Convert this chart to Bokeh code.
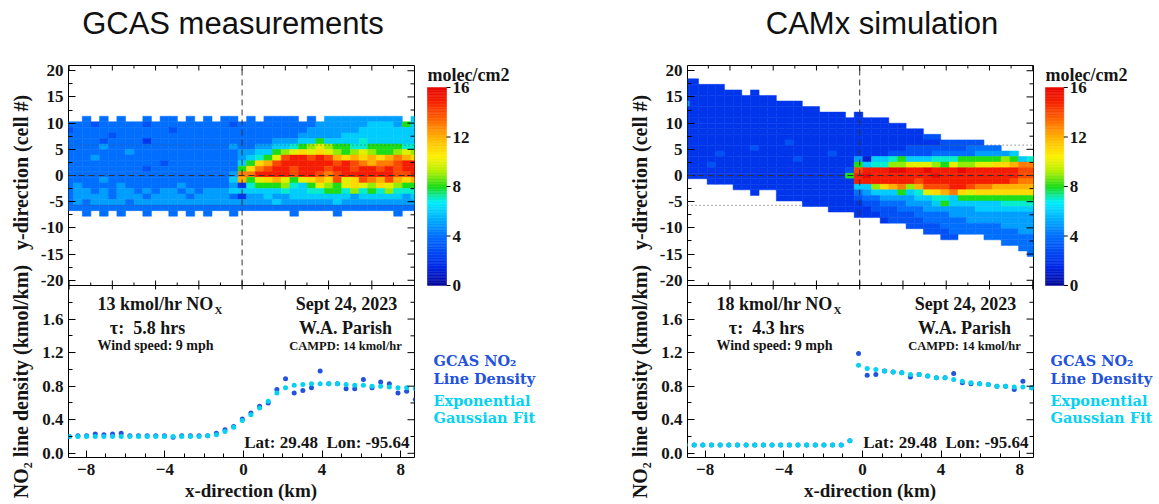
import numpy as np
from bokeh.plotting import figure
from bokeh.models import (Range1d, LinearAxis, FixedTicker, Label, Span,
                          ColumnDataSource, LinearColorMapper)
from bokeh.layouts import row
from bokeh.transform import transform
from bokeh.core.properties import value
from bokeh.embed import file_html
from bokeh.resources import INLINE

# ------------------------------------------------------------------ data
titles = ["GCAS measurements", "CAMx simulation"]

heat_ticks = [-20, -15, -10, -5, 0, 5, 10, 15, 20]
heat_minor = [-17.5, -12.5, -7.5, -2.5, 2.5, 7.5, 12.5, 17.5]
line_ticks = [0.0, 0.4, 0.8, 1.2, 1.6]
line_minor = [0.2, 0.6, 1.0, 1.4, 1.8]
x_ticks = [-8, -4, 0, 4, 8]
x_minor = [-9, -7, -6, -5, -3, -2, -1, 1, 2, 3, 5, 6, 7]
cbar_ticks = [0, 4, 8, 12, 16]

# NO2 column grids (molec/cm2 scaled 0..16, hex-17 digits, '.' = no data)
# each row: (columns 0-19, columns 20-40); first row = top row
left_grid = [
    ("..4.4.4..4.44.4.4.44", ".4.4444.4.555555555.6"),
    ("44434444434444444443", "444444444555555666586"),
    ("34444444444434444444", "444444445555556666666"),
    ("44444344444444444444", "444444455555666666666"),
    ("44443444424444444444", "444455566866667666666"),
    ("44445444444444444445", "445566789a98877888877"),
    ("44444445444444444444", "556689ababa989a9889a9"),
    ("44454444444444444444", "5678aeffefecbcbcbcdcb"),
    ("44444444444344444444", "68bceffffffefedcddeff"),
    ("44444444434444444444", "8bdeffefffeffeffefeff"),
    ("44444444444444444445", "ddffffeffedeffffffeef"),
    ("44445444444444444446", "c8abca8abcbeabedcecbc"),
    ("45444454444445444445", "278889768a98aba9ba988"),
    ("45545455454554545556", "666667667788797879777"),
    ("45555455545555455554", "255655666666656666656"),
    ("45455554555555555555", "555565555556555555555"),
    ("44444444444444444444", "444444444444444444444"),
    ("..4.4.4..4..4.4.4..4", "......4....4......4.."),
]

right_grid = [
    ("22", ""),
    ("22222", ""),
    ("2222222.2", ""),
    ("22222222222", ""),
    ("52222222222222", ""),
    ("2222222222222222", ""),
    ("2222222222222222222.", "2"),
    ("22222222222222222222", "2222"),
    ("22222222222222222222", "222222"),
    ("22222222222222222222", "22222222"),
    ("22222222222222222222", "2222222233"),
    ("22222222222232222222", "222222222233333"),
    ("22222222322222222222", "22222233333334444"),
    ("22223222222222222322", "2222333334444455556"),
    ("22222222222223222222", "516678666777888889867"),
    ("22232222222222222222", "867799aaa98a99aabbcdd"),
    ("22222222222222222223", "efffggffgfffgffffffee"),
    ("22222222222222222228", "fgfffffffgfffffffffee"),
    ("..." + "2" * 17, "fffffffeffffffffffedd"),
    ("." * 6 + "2" * 14, "669bcd9ceeeffeddccccc"),
    ("." * 8 + "2.." + "2" * 9, "45666867abcdbabbbbbbb"),
    ("." * 11 + "2" * 9, "344555566776888888888"),
    ("." * 14 + "2" * 6, "233444555686666667777"),
    ("." * 17 + "2" * 3, "223334445555556666666"),
    ("", "222333344445555555555"),
    ("", "..." + "233334444455555555"),
    ("", "." * 6 + "333344444445555"),
    ("", "." * 8 + "3334444444455"),
    ("", "." * 10 + "33..." + "444444"),
    ("", "." * 17 + "4444"),
    ("", "." * 19 + "44"),
    ("", "." * 20 + "4"),
]

# NO2 line density (kmol/km)
left_x = [-8.86, -8.42, -7.98, -7.54, -7.10, -6.66, -6.22, -5.78, -5.34, -4.90,
          -4.46, -4.02, -3.58, -3.14, -2.70, -2.26, -1.82, -1.38, -0.94, -0.50,
          -0.06, 0.38, 0.82, 1.26, 1.70, 2.14, 2.58, 3.02, 3.46, 3.90,
          4.34, 4.78, 5.22, 5.66, 6.10, 6.54, 6.98, 7.42, 7.86, 8.30, 8.74]
left_obs = [0.20, 0.21, 0.21, 0.23, 0.22, 0.23, 0.24, 0.21, 0.21, 0.21,
            0.21, 0.21, 0.19, 0.21, 0.21, 0.21, 0.21, 0.24, 0.28, 0.32,
            0.41, 0.48, 0.56, 0.60, 0.76, 0.89, 0.72, 0.75, 0.78, 0.98,
            0.83, 0.83, 0.77, 0.77, 0.88, 0.78, 0.85, 0.83, 0.72, 0.74, 0.64]
left_fit = [0.20, 0.20, 0.20, 0.20, 0.20, 0.20, 0.20, 0.20, 0.20, 0.20,
            0.20, 0.20, 0.20, 0.20, 0.20, 0.20, 0.21, 0.22, 0.26, 0.31,
            0.39, 0.46, 0.54, 0.62, 0.72, 0.78, 0.81, 0.82, 0.83, 0.83,
            0.83, 0.83, 0.82, 0.81, 0.81, 0.80, 0.80, 0.79, 0.78, 0.78, 0.77]
right_x = [-9.00, -8.56, -8.12, -7.68, -7.24, -6.80, -6.36, -5.92, -5.48, -5.04,
           -4.60, -4.16, -3.72, -3.28, -2.84, -2.40, -1.96, -1.52, -1.08, -0.64,
           -0.20, 0.24, 0.68, 1.12, 1.56, 2.00, 2.44, 2.88, 3.32, 3.76,
           4.20, 4.64, 5.08, 5.52, 5.96, 6.40, 6.84, 7.28, 7.72, 8.16, 8.60]
right_obs = [0.10, 0.10, 0.10, 0.10, 0.10, 0.10, 0.10, 0.10, 0.10, 0.10,
             0.10, 0.10, 0.10, 0.10, 0.10, 0.10, 0.10, 0.10, 0.10, 0.15,
             1.19, 0.93, 0.94, 0.98, 0.97, 0.96, 0.91, 0.94, 0.92, 0.90,
             0.90, 0.95, 0.84, 0.83, 0.83, 0.82, 0.80, 0.80, 0.76, 0.86, 0.78]
right_fit = [0.10, 0.10, 0.10, 0.10, 0.10, 0.10, 0.10, 0.10, 0.10, 0.10,
             0.10, 0.10, 0.10, 0.10, 0.10, 0.10, 0.10, 0.10, 0.10, 0.15,
             1.05, 1.01, 1.00, 0.98, 0.97, 0.96, 0.94, 0.94, 0.92, 0.90,
             0.90, 0.88, 0.86, 0.84, 0.83, 0.82, 0.80, 0.80, 0.79, 0.79, 0.78]

NB = "\u00a0"
left_notes = ["13 kmol/hr NO", "X", "τ:" + NB + NB + "5.8 hrs", "Wind speed: 9 mph",
              "Sept 24, 2023", "W.A. Parish", "CAMPD: 14 kmol/hr",
              "Lat: 29.48" + NB + NB + "Lon: -95.64"]
right_notes = ["18 kmol/hr NO", "X", "τ:" + NB + NB + "4.3 hrs", "Wind speed: 9 mph",
               "Sept 24, 2023", "W.A. Parish", "CAMPD: 14 kmol/hr",
               "Lat: 29.48" + NB + NB + "Lon: -95.64"]
legend_lines = ["GCAS NO₂", "Line Density", "Exponential", "Gaussian Fit"]
cbar_title = "molec/cm2"
y_heat_label = "y-direction (cell #)"
y_line_label = "NO₂ line density (kmol/km)"
x_label = "x-direction (km)"

# ------------------------------------------------------------------ style / layout
SERIF = "Liberation Serif"
INK = "#151515"
BLUE = "#2352dc"
CYAN = "#05d2f2"

X_LO, X_HI = -8.9, 8.7
FRAME_W, FRAME_H = 346, 392
TOP_PX = 65
HEAT_PX, LINE_PX = 220, 172
HEAT_LO, HEAT_HI = -21.0, 21.0
LINE_LO, LINE_HI = -0.05, 2.0
FRAME_BOTTOM = TOP_PX + FRAME_H
PXKM = FRAME_W / (X_HI - X_LO)
HEAT_PXU = HEAT_PX / (HEAT_HI - HEAT_LO)
LINE_PXU = LINE_PX / (LINE_HI - LINE_LO)
CELL_W, CELL_H = 0.44, 1.06
CELLS_PER_TICK = 5

stops = [(0, (10, 10, 150)), (1.5, (0, 40, 230)), (4, (0, 110, 255)),
         (5.5, (0, 180, 255)), (6.8, (0, 240, 250)), (8, (25, 220, 25)),
         (9.3, (180, 240, 0)), (10.5, (255, 240, 0)), (12, (255, 180, 0)),
         (13.5, (255, 100, 0)), (15, (245, 30, 0)), (16, (230, 10, 0))]


def build_palette(n=256):
    sv = [s[0] for s in stops]
    out = []
    for i in range(n):
        v = 16.0 * i / (n - 1)
        rgb = [int(round(np.interp(v, sv, [s[1][c] for s in stops]))) for c in range(3)]
        out.append("#%02x%02x%02x" % tuple(rgb))
    return out


mapper = LinearColorMapper(palette=build_palette(), low=0, high=16)


def heat_to_px(v):
    return round(LINE_PX + (v - HEAT_LO) * HEAT_PXU, 4)


def line_to_px(w):
    return round((w - LINE_LO) * LINE_PXU, 4)


def fx(dx):
    return X_LO + dx / PXKM


def fy_line(py):
    return LINE_LO + (FRAME_BOTTOM - py) / LINE_PXU


def add_label(p, x, y, text, rng, size, align="center", baseline="middle"):
    p.add_layout(Label(x=x, y=y, y_range_name=rng, text=text, text_font=SERIF,
                       text_font_size=size, text_font_style="bold", text_color=INK,
                       text_align=align, text_baseline=baseline))


def make_main(grid, x_edge0, y_edge0, heat_x0, xs, obs, fit, notes,
              title, pad_l, pad_r, dotted, border_left):
    width = border_left + FRAME_W + 7
    p = figure(width=width, height=504, x_range=Range1d(X_LO, X_HI),
               y_range=Range1d(0, FRAME_H), output_backend="svg",
               toolbar_location=None, x_axis_location=None, y_axis_location=None,
               min_border_left=border_left, min_border_right=7,
               min_border_top=TOP_PX, min_border_bottom=504 - FRAME_BOTTOM)
    p.extra_y_ranges = {
        "heat": Range1d(HEAT_LO - (HEAT_HI - HEAT_LO) * LINE_PX / HEAT_PX, HEAT_HI),
        "line": Range1d(LINE_LO, LINE_LO + (LINE_HI - LINE_LO) * FRAME_H / LINE_PX),
    }
    p.grid.visible = False
    p.outline_line_color = "black"
    p.outline_line_width = 1
    p.background_fill_color = "white"
    p.border_fill_color = "white"

    p.title.text = NB * pad_l + title + NB * pad_r + "\n" + NB
    p.title.align = "center"
    p.title.vertical_align = "bottom"
    p.title.text_font = "Liberation Sans"
    p.title.text_font_style = "normal"
    p.title.text_font_size = "31px"
    p.title.text_line_height = 0.65
    p.title.text_color = "#111111"
    p.title.standoff = 4

    # heat map cells
    L, R, B, T, V = [], [], [], [], []
    nrows = len(grid)
    for i, (lp, rp) in enumerate(grid):
        s = lp.ljust(20, ".")[:20] + rp.ljust(21, ".")[:21]
        m = nrows - 1 - i
        for k, c in enumerate(s):
            if c == ".":
                continue
            L.append(x_edge0 + k * CELL_W)
            R.append(x_edge0 + (k + 1) * CELL_W)
            B.append(y_edge0 + m * CELL_H)
            T.append(y_edge0 + (m + 1) * CELL_H)
            V.append(int(c, 17))
    src = ColumnDataSource(dict(left=L, right=R, bottom=B, top=T, v=V))
    p.quad(left="left", right="right", bottom="bottom", top="top", source=src,
           fill_color=transform("v", mapper), line_color=transform("v", mapper),
           line_width=0.5, y_range_name="heat")

    # reference lines
    p.add_layout(Span(location=0, dimension="width", y_range_name="heat",
                      line_color="#333333", line_dash="6 4", line_width=1))
    p.segment(x0=[heat_x0], y0=[HEAT_LO], x1=[heat_x0], y1=[HEAT_HI],
              y_range_name="heat", line_color="#333333", line_dash="6 4", line_width=1)
    for (xa, xb, yv) in dotted:
        p.segment(x0=[xa], y0=[yv], x1=[xb], y1=[yv], y_range_name="heat",
                  line_color="#555555", line_dash="1 3", line_width=1)
    p.add_layout(Span(location=HEAT_LO, dimension="width", y_range_name="heat",
                      line_color="black", line_width=1))

    # cell-index ticks (every 5 cells): top edge and panel boundary
    step = CELLS_PER_TICK * CELL_W
    cmaj = [heat_x0 + n * step for n in range(-5, 6) if X_LO < heat_x0 + n * step < X_HI]
    cmin = [heat_x0 + (n + 0.5) * step for n in range(-5, 6)
            if X_LO < heat_x0 + (n + 0.5) * step < X_HI]
    tk = dict(y_range_name="heat", line_color="black", line_width=1)
    p.segment(x0=cmaj, x1=cmaj, y0=[HEAT_LO - 4 / HEAT_PXU] * len(cmaj),
              y1=[HEAT_LO + 5 / HEAT_PXU] * len(cmaj), **tk)
    p.segment(x0=cmin, x1=cmin, y0=[HEAT_LO] * len(cmin),
              y1=[HEAT_LO + 3 / HEAT_PXU] * len(cmin), **tk)
    p.segment(x0=cmaj, x1=cmaj, y0=[HEAT_HI] * len(cmaj),
              y1=[HEAT_HI - 5 / HEAT_PXU] * len(cmaj), **tk)
    p.segment(x0=cmin, x1=cmin, y0=[HEAT_HI] * len(cmin),
              y1=[HEAT_HI - 3 / HEAT_PXU] * len(cmin), **tk)

    # line densities
    p.scatter(x=xs, y=obs, y_range_name="line", marker="circle", size=5,
              fill_color=BLUE, line_color=None)
    p.scatter(x=xs, y=fit, y_range_name="line", marker="circle", size=5,
              fill_color=CYAN, line_color=None)

    # axes
    tick_kw = dict(axis_line_color=None, major_tick_line_color="black",
                   minor_tick_line_color="black", major_tick_out=0, minor_tick_out=0)
    lab_kw = dict(major_label_text_font=SERIF, major_label_text_font_style="bold",
                  major_label_text_font_size="17px", major_label_text_color=INK,
                  axis_label_text_font=SERIF, axis_label_text_font_style="bold",
                  axis_label_text_color=INK)

    bottom = LinearAxis(ticker=FixedTicker(ticks=x_ticks, minor_ticks=x_minor),
                        major_tick_in=7, minor_tick_in=4, major_label_standoff=6,
                        axis_label=NB * 4 + x_label, axis_label_standoff=2,
                        axis_label_text_font_size="19px", **tick_kw, **lab_kw)
    p.add_layout(bottom, "below")

    ypos = [heat_to_px(v) for v in heat_ticks] + [line_to_px(w) for w in line_ticks]
    ylab = [str(v) for v in heat_ticks] + ["%.1f" % w for w in line_ticks]
    ymin = [heat_to_px(v) for v in heat_minor] + [line_to_px(w) for w in line_minor]
    left = LinearAxis(ticker=FixedTicker(ticks=ypos, minor_ticks=ymin),
                      major_label_overrides={pp: lb for pp, lb in zip(ypos, ylab)},
                      major_tick_in=7, minor_tick_in=4, major_label_standoff=5,
                      axis_label=y_line_label + NB * 3 + y_heat_label + NB * 14,
                      axis_label_standoff=6, axis_label_text_font_size="20px",
                      **tick_kw, **lab_kw)
    p.add_layout(left, "left")

    # right-edge ticks
    xr_maj = X_HI - 7 / PXKM
    xr_min = X_HI - 4 / PXKM
    p.segment(x0=[X_HI] * len(ypos), x1=[xr_maj] * len(ypos), y0=ypos, y1=ypos,
              line_color="black", line_width=1)
    p.segment(x0=[X_HI] * len(ymin), x1=[xr_min] * len(ymin), y0=ymin, y1=ymin,
              line_color="black", line_width=1)

    # annotations inside the lower panel
    add_label(p, fx(145), fy_line(303), notes[0], "line", "18px", align="right")
    add_label(p, fx(146), fy_line(309), notes[1], "line", "11px", align="left")
    add_label(p, fx(79), fy_line(327), notes[2], "line", "18px")
    add_label(p, fx(87), fy_line(345), notes[3], "line", "14px")
    add_label(p, fx(278), fy_line(303), notes[4], "line", "18px")
    add_label(p, fx(277), fy_line(327), notes[5], "line", "18px")
    add_label(p, fx(277), fy_line(345), notes[6], "line", "12.5px")
    add_label(p, fx(341), fy_line(442), notes[7], "line", "17px", align="right")
    return p


CB_TOP_PX, CB_BOT_PX = 87, 285
CB_S = (CB_BOT_PX - CB_TOP_PX) / 16.0


def cb_y(py):
    return 16 - (py - CB_TOP_PX) / CB_S


def make_side(width, bar_x0, bar_x1, legend_x):
    p = figure(width=width, height=504, x_range=Range1d(0, width),
               y_range=Range1d(cb_y(FRAME_BOTTOM), cb_y(TOP_PX)), output_backend="svg",
               toolbar_location=None, x_axis_location=None, y_axis_location=None,
               min_border_left=0, min_border_right=0, min_border_top=TOP_PX,
               min_border_bottom=504 - FRAME_BOTTOM)
    p.grid.visible = False
    p.outline_line_color = None
    p.background_fill_color = "white"
    p.border_fill_color = "white"
    lv = np.linspace(0, 16, 129)
    src = ColumnDataSource(dict(bottom=lv[:-1], top=lv[1:], v=(lv[:-1] + lv[1:]) / 2))
    p.quad(left=bar_x0, right=bar_x1, bottom="bottom", top="top", source=src,
           fill_color=transform("v", mapper), line_color=transform("v", mapper),
           line_width=0.5)
    n = len(cbar_ticks)
    p.segment(x0=[bar_x1] * n, x1=[bar_x1 + 4] * n, y0=cbar_ticks, y1=cbar_ticks,
              line_color="black", line_width=1)
    p.text(x=[bar_x1 + 6] * n, y=cbar_ticks, text=[str(t) for t in cbar_ticks],
           text_font=value(SERIF), text_font_style="bold", text_font_size="17px",
           text_baseline="middle", text_align="left", text_color=INK)
    p.text(x=[bar_x0], y=[cb_y(74)], text=[cbar_title], text_font=value(SERIF),
           text_font_style="bold", text_font_size="18px", text_baseline="middle",
           text_align="left", text_color=INK)
    p.text(x=[legend_x] * 4, y=[cb_y(v) for v in (360, 378, 400, 417)],
           text=legend_lines, text_color=[BLUE, BLUE, CYAN, CYAN],
           text_font=value("DejaVu Serif"), text_font_style="bold",
           text_font_size="14.5px", text_baseline="middle", text_align="left")
    return p


left_main = make_main(left_grid, -9.08, -7.77, -0.07, left_x, left_obs, left_fit,
                      left_notes, titles[0], 0, 2,
                      [(X_LO, X_HI, 5.8), (X_LO, X_HI, -5.7)], 68)
left_side = make_side(159, 6, 25, 12)
right_main = make_main(right_grid, -9.22, -15.46, -0.14, right_x, right_obs, right_fit,
                       right_notes, titles[1], 5, 0,
                       [(2.45, X_HI, 5.8), (X_LO, -3.06, -5.7)], 107)
right_side = make_side(119, 5, 23.3, 10)

layout = row(left_main, left_side, right_main, right_side)
open("out.html", "w").write(file_html(layout, INLINE))
